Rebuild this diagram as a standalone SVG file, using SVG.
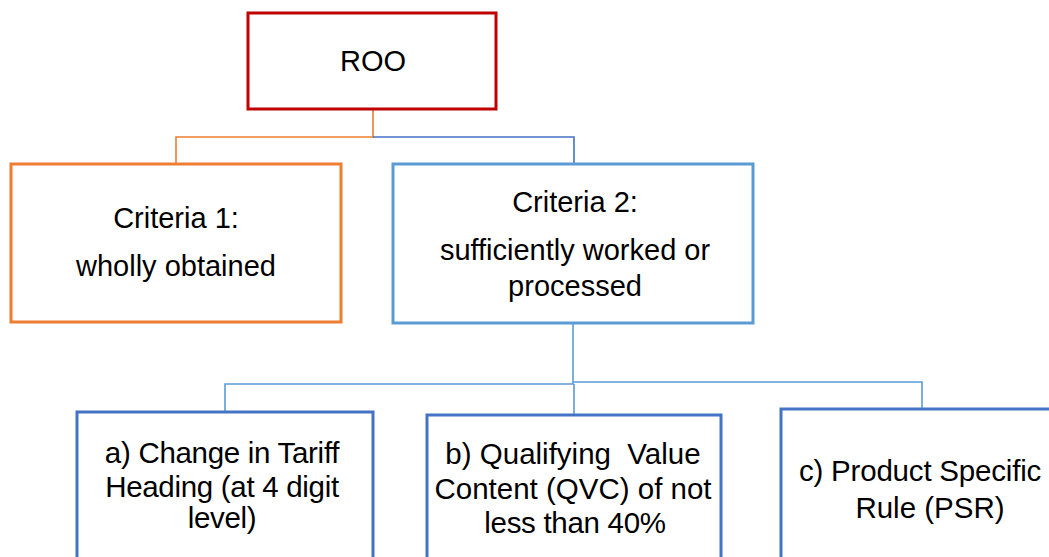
<svg xmlns="http://www.w3.org/2000/svg" width="1049" height="557" viewBox="0 0 1049 557">
<style>
.box{fill:#fff;stroke-width:3}
.t{font-family:"Liberation Sans",Arial,sans-serif;font-size:29px;fill:#000;text-anchor:middle}
.s{font-size:29.5px}
.c{fill:none;stroke-width:1.6}
</style>
<rect width="1049" height="557" fill="#fff"/>
<g id="connectors">
<path class="c" stroke="#ED7D31" d="M373 109V137H176V164"/>
<path class="c" stroke="#4472C4" d="M373 137H574V164"/>
<path class="c" stroke="#5B9BD5" d="M573 323V384H225V412M573 382H922V409M574 384V415"/>
</g>
<g id="roo">
<rect class="box" x="248" y="13" width="248" height="96" stroke="#C00000"/>
<text class="t" x="373" y="71">ROO</text>
</g>
<g id="criteria1">
<rect class="box" x="11" y="164" width="330" height="158" stroke="#ED7D31"/>
<text class="t" x="176" y="228">Criteria 1:</text>
<text class="t" x="176" y="276">wholly obtained</text>
</g>
<g id="criteria2">
<rect class="box" x="393" y="164" width="360" height="159" stroke="#5B9BD5"/>
<text class="t" x="575" y="212">Criteria 2:</text>
<text class="t" x="575" y="260">sufficiently worked or</text>
<text class="t" x="575" y="296">processed</text>
</g>
<g id="rule-a">
<rect class="box" x="77" y="412" width="296" height="160" stroke="#4472C4"/>
<text class="t s" x="222" y="463" letter-spacing="-0.3">a) Change in Tariff</text>
<text class="t s" x="222" y="497" letter-spacing="-0.3">Heading (at 4 digit</text>
<text class="t s" x="222" y="528" letter-spacing="-0.3">level)</text>
</g>
<g id="rule-b">
<rect class="box" x="427" y="415" width="294" height="160" stroke="#4472C4"/>
<text class="t s" x="573" y="464" xml:space="preserve">b) Qualifying  Value</text>
<text class="t s" x="573" y="499">Content (QVC) of not</text>
<text class="t s" x="575" y="533" letter-spacing="-0.3">less than 40%</text>
</g>
<g id="rule-c">
<rect class="box" x="781" y="409" width="290" height="170" stroke="#4472C4"/>
<text class="t s" x="920" y="481" letter-spacing="-0.2">c) Product Specific</text>
<text class="t s" x="930" y="518">Rule (PSR)</text>
</g>
</svg>
